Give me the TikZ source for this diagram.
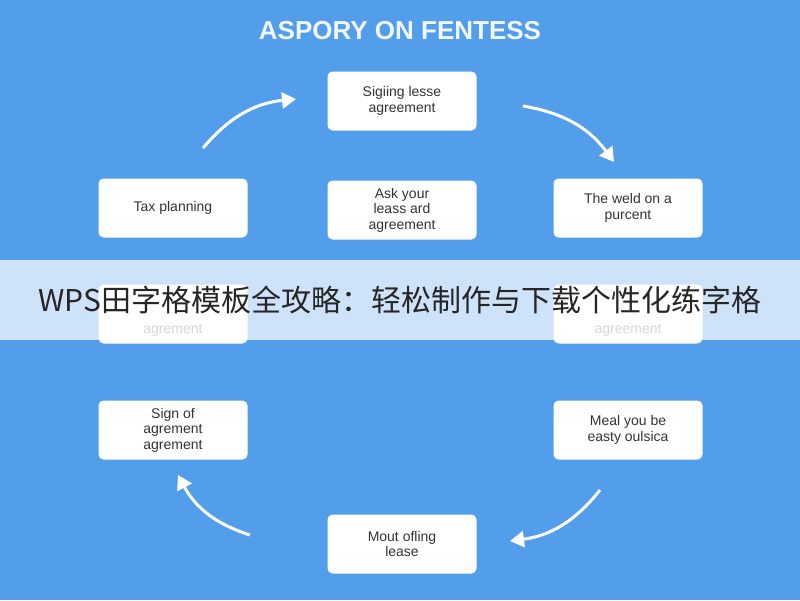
\documentclass[tikz,border=0pt]{standalone}
\usepackage{fontspec}
\setmainfont{Liberation Sans}
\newfontfamily\cjk{Noto Sans CJK SC}
\usetikzlibrary{arrows.meta}
\definecolor{bg}{HTML}{529EEB}
\definecolor{txt}{HTML}{333333}
\begin{document}
\begin{tikzpicture}[x=1pt,y=-1pt,
  box/.style={draw=none,fill=white,rounded corners=5pt,minimum width=149pt,minimum height=59pt,align=center,text=txt,font=\fontsize{14}{15.5}\selectfont},
  arr/.style={draw=white,line width=3pt,-{Triangle[length=14pt,width=16pt]}}]
\fill[bg] (0,0) rectangle (800,600);
\useasboundingbox (0,0) rectangle (800,600);
\node[font=\bfseries\fontsize{26}{30}\selectfont,text=white!92!bg] (title) at (400,31) {ASPORY ON FENTESS};
\node[box] (top) at (402,101) {Sigiing lesse\\agreement};
\node[box] (tax) at (173,208) {Tax planning};
\node[box] (ask) at (402,210) {Ask your\\leass ard\\agreement};
\node[box] (weld) at (628,208) {The weld on a\\purcent};
\node[box] (lm) at (173,314) {};
\node[box] (rm) at (628,314) {};
\node[box] (sign) at (173,430) {Sign of\\agrement\\agrement};
\node[box] (meal) at (628,430) {Meal you be\\easty oulsica};
\node[box] (mout) at (402,544) {Mout ofling\\lease};
\node[text=txt!70,font=\fontsize{14}{15}\selectfont] (lmt) at (173,330) {agrement};
\node[text=txt!70,font=\fontsize{14}{15}\selectfont] (rmt) at (628,330) {agreement};
\coordinate (a1) at (203,148); \coordinate (b1) at (296,99);
\coordinate (a2) at (523,106); \coordinate (b2) at (614,162);
\coordinate (a3) at (600,490); \coordinate (b3) at (510,541);
\coordinate (a4) at (250,535); \coordinate (b4) at (178,475);
\draw[arr] (a1) to[bend left=22] (b1);
\draw[arr] (a2) to[bend left=22] (b2);
\draw[arr] (a3) to[bend left=22] (b3);
\draw[arr] (a4) to[bend left=22] (b4);
\fill[white,opacity=0.72] (0,260) rectangle (800,340);
\node[font=\cjk\fontsize{30}{32}\selectfont,text=black!85] (ban) at (400,300) {WPS田字格模板全攻略：轻松制作与下载个性化练字格};
\end{tikzpicture}
\end{document}
